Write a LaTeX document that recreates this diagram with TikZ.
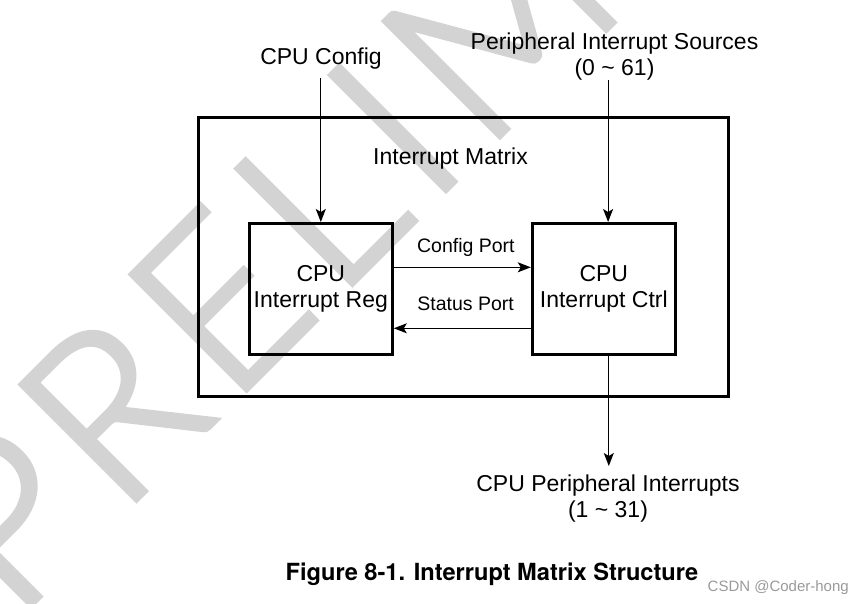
\documentclass[tikz,border=0pt]{standalone}
\usepackage{fontspec}
\setmainfont{Liberation Sans}
\newfontfamily\capfont{TeX Gyre Heros}
\IfFontExistsTF{Lato Light}{\newfontfamily\wmfont{Lato Light}[FakeBold=2.5,LetterSpace=7]}{\newfontfamily\wmfont{Liberation Sans}}
\usepackage{tikz}
\usetikzlibrary{positioning,arrows.meta}
\definecolor{wmgray}{HTML}{D3D3D3}
\definecolor{taggray}{HTML}{9A9A9A}
\newcommand{\bigtxt}{\fontsize{23}{26}\selectfont}
\newcommand{\smalltxt}{\fontsize{19.5}{22}\selectfont}
\tikzset{
  frame/.style = {draw, line width=3pt, minimum width=530pt, minimum height=279pt},
  blk/.style   = {draw, line width=3pt, font=\bigtxt, inner sep=0pt,
                  minimum width=143pt, minimum height=131pt},
  txt/.style   = {font=\bigtxt, align=center, inner sep=0pt},
  lbl/.style   = {font=\smalltxt, inner sep=0pt},
  flow/.style  = {-{Stealth[length=13pt,width=10pt,inset=3pt]}, line width=1.2pt},
  wm/.style    = {font=\wmfont\fontsize{230}{230}\selectfont, text=wmgray, inner sep=0pt},
}
\newcommand{\twolines}[2]{\raisebox{-3pt}{\begin{tabular}{@{}c@{}}#1\\#2\end{tabular}}}

\begin{document}
\begin{tikzpicture}[x=1pt,y=-1pt]
    \useasboundingbox (0,0) rectangle (865,604);
    % watermark behind everything
    \begin{scope}
      \clip (0,0) rectangle (865,604);
      \node[wm, rotate=45, anchor=base west] (wmark) at (14,622) {PRELIMINARY};
    \end{scope}
    % Matrix frame and its two blocks
    \node[frame] (mat) at (463.3,257.2) {};
    \node[txt, anchor=base] (matlbl) at (450.5,165) {Interrupt Matrix};
    \node[blk] (reg) at (320.8,289) {\twolines{CPU}{Interrupt Reg}};
    \node[blk, right=137pt of reg] (ctrl) {\twolines{CPU}{Interrupt Ctrl}};
    % Outside inputs and output
    \node[txt, anchor=base] (cfg) at (321,65) {CPU Config};
    \node[txt, anchor=south] (src) at (614.5,80) {Peripheral Interrupt Sources\\(0 \textasciitilde{} 61)};
    \node[txt, anchor=north] (out) at (608,475) {CPU Peripheral Interrupts\\(1 \textasciitilde{} 31)};
    \coordinate (ctrlin) at ([xshift=4.3pt]ctrl.north);
    \coordinate (ctrlout) at ([xshift=5pt]ctrl.south);

    \draw[flow, shorten <=8pt] (reg.north |- cfg.south) -- (reg.north);
    \draw[flow] (src.south -| ctrlin) -- (ctrlin);
    \draw[flow] ([yshift=21.7pt]reg.east) -- node[lbl, anchor=base, xshift=3.6pt, yshift=15pt]{Config Port} ([yshift=21.7pt]ctrl.west);
    \draw[flow] ([yshift=-39.3pt]ctrl.west) -- node[lbl, anchor=base, xshift=3.3pt, yshift=18.3pt]{Status Port} ([yshift=-39.3pt]reg.east);
    \draw[flow, shorten >=9pt] (ctrlout) -- (ctrlout |- out.north);

    % Caption and tag
    \node[font={\capfont\bfseries\fontsize{23.6}{26}\selectfont}, anchor=base, inner sep=0pt] (cap) at (492,580) {Figure 8-1. Interrupt Matrix Structure};
    \node[font=\fontsize{15}{17}\selectfont, text=taggray, anchor=base east, inner sep=0pt] (tag) at (849,591.7) {CSDN @Coder-hong};
  \end{tikzpicture}
\end{document}
